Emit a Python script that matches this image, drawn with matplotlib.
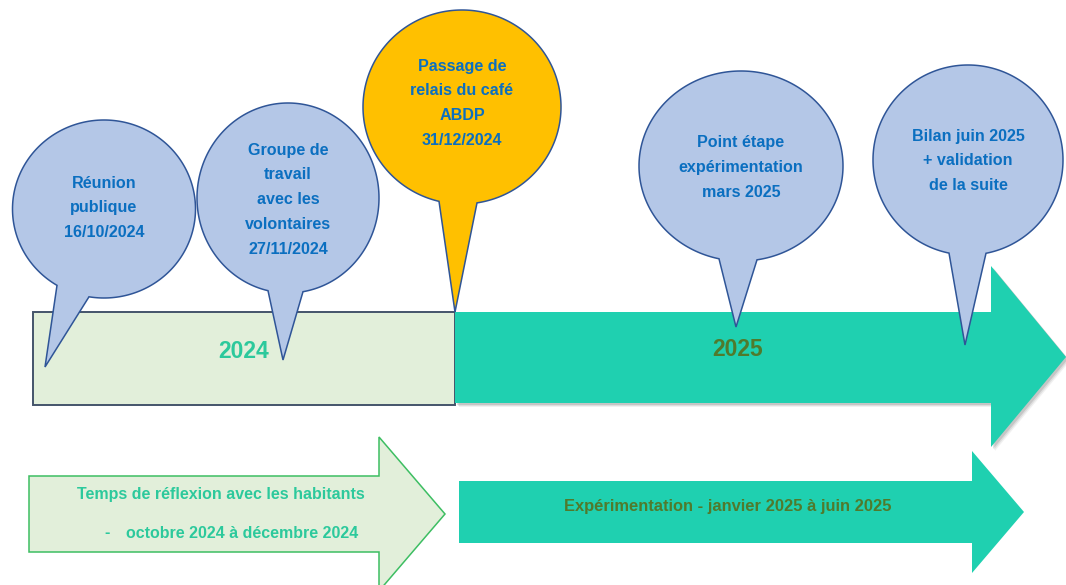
import numpy as np
import matplotlib
matplotlib.use("Agg")
import matplotlib.pyplot as plt
from matplotlib.patches import Polygon, Rectangle

# ---------------- data ----------------
years = ["2024", "2025"]
bubble_labels = [
    ["Réunion", "publique", "16/10/2024"],
    ["Groupe de", "travail", "avec les", "volontaires", "27/11/2024"],
    ["Passage de", "relais du café", "ABDP", "31/12/2024"],
    ["Point étape", "expérimentation", "mars 2025"],
    ["Bilan juin 2025", "+ validation", "de la suite"],
]
bubble_highlight = [False, False, True, False, False]
phase_labels = [
    ["Temps de réflexion avec les habitants", "octobre 2024 à décembre 2024"],
    ["Expérimentation - janvier 2025 à juin 2025"],
]

# ---------------- layout (pixel coords, y downward) ----------------
# center x, center y, half width, half height, attach x left, attach x right, tip x, tip y, first text line y
bubble_geom = [
    (104, 209, 91.5, 89, 57, 89, 45, 367, 183),
    (288, 198, 91, 95, 268, 303, 283, 360, 150),
    (462, 107, 99, 97, 439, 477, 455, 312, 66),
    (741, 166, 102, 95, 719, 757, 736, 327, 143),
    (968, 160, 95, 95, 949, 986, 965, 345, 136),
]
line_step = 24.8

FONT = ["Liberation Sans", "DejaVu Sans"]
BLUE_FILL = "#B4C7E7"
BLUE_EDGE = "#2F5597"
ORANGE = "#FFC000"
TEAL = "#1FD0B0"
LIGHT_GREEN = "#E2EFDA"
TXT_BLUE = "#0B6FC0"
TXT_TEAL = "#2CC99C"
TXT_OLIVE = "#507A2C"

fig = plt.figure(figsize=(10.66, 5.85), dpi=100)
ax = fig.add_axes([0, 0, 1, 1])
ax.set_xlim(0, 1066)
ax.set_ylim(585, 0)
ax.axis("off")

# ---- 2024 rectangle ----
ax.add_patch(Rectangle((33, 312), 455 - 33, 405 - 312, facecolor=LIGHT_GREEN,
                       edgecolor="#44546A", lw=1.4, zorder=2))

# ---- 2025 big arrow with shadow ----
arrow25 = np.array([(455, 312), (991, 312), (991, 266), (1066, 357),
                    (991, 447), (991, 403), (455, 403)])
for k, al in [(4, 0.08), (3, 0.12), (2, 0.18)]:
    ax.add_patch(Polygon(arrow25 + np.array([k, k]), closed=True,
                         facecolor="#555555", edgecolor="none", alpha=al, zorder=1))
ax.add_patch(Polygon(arrow25, closed=True, facecolor=TEAL, edgecolor="none", zorder=2))

ax.text(244, 352, years[0], color=TXT_TEAL, fontsize=16.5, fontweight="bold",
        family=FONT, ha="center", va="center", zorder=3)
ax.text(738, 350, years[1], color=TXT_OLIVE, fontsize=16.5, fontweight="bold",
        family=FONT, ha="center", va="center", zorder=3)

# ---- bubbles ----
def bubble_poly(cx, cy, a, b, xl, xr, tx, ty):
    tl = np.arccos(np.clip((xl - cx) / a, -1, 1))
    tr = np.arccos(np.clip((xr - cx) / a, -1, 1))
    t = np.linspace(tl, tr + 2 * np.pi, 300)
    pts = np.column_stack([cx + a * np.cos(t), cy + b * np.sin(t)])
    return np.vstack([pts, [(tx, ty)]])

for lines, geom, hl in zip(bubble_labels, bubble_geom, bubble_highlight):
    cx, cy, a, b, xl, xr, tx, ty, y0 = geom
    poly = bubble_poly(cx, cy, a, b, xl, xr, tx, ty)
    ax.add_patch(Polygon(poly, closed=True, facecolor=ORANGE if hl else BLUE_FILL,
                         edgecolor=BLUE_EDGE, lw=1.1, zorder=4))
    for i, s in enumerate(lines):
        ax.text(cx, y0 + i * line_step, s, color=TXT_BLUE, fontsize=11.6,
                fontweight="bold", family=FONT, ha="center", va="center", zorder=5)

# ---- bottom phase arrows ----
left_arrow = [(29, 476), (379, 476), (379, 437), (445, 514), (379, 591),
              (379, 552), (29, 552)]
ax.add_patch(Polygon(left_arrow, closed=True, facecolor=LIGHT_GREEN,
                     edgecolor="#3DBE62", lw=1.1, zorder=2))
right_arrow = [(459, 481), (972, 481), (972, 451), (1024, 512), (972, 573),
               (972, 543), (459, 543)]
ax.add_patch(Polygon(right_arrow, closed=True, facecolor=TEAL,
                     edgecolor="none", zorder=2))

ax.text(221, 495, phase_labels[0][0], color=TXT_TEAL, fontsize=11.5,
        fontweight="bold", family=FONT, ha="center", va="center", zorder=3)
ax.text(107, 533, "-", color=TXT_TEAL, fontsize=11.5,
        fontweight="bold", family=FONT, ha="center", va="center", zorder=3)
ax.text(126, 533, phase_labels[0][1], color=TXT_TEAL, fontsize=11.5,
        fontweight="bold", family=FONT, ha="left", va="center", zorder=3)
ax.text(728, 507, phase_labels[1][0], color=TXT_OLIVE, fontsize=11.9,
        fontweight="bold", family=FONT, ha="center", va="center", zorder=3)

fig.savefig("out.png", dpi=100)
